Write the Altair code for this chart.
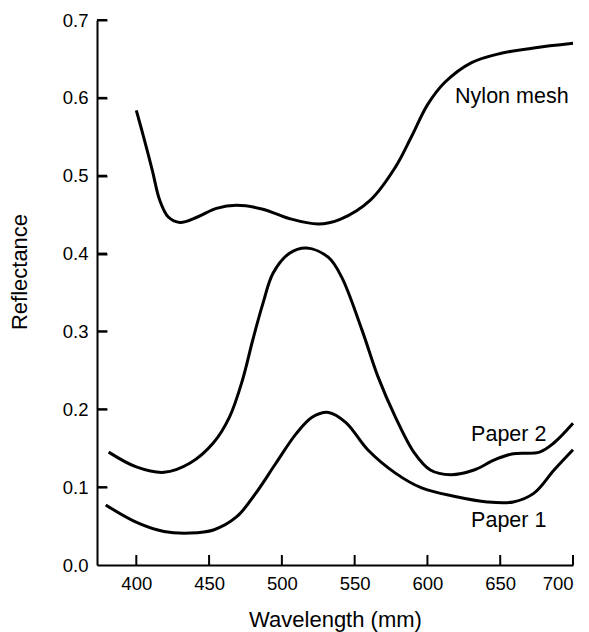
import altair as alt
import pandas as pd

# Nylon mesh curve
nylon_wl = [400, 405, 411, 416, 422, 430, 442, 455, 469, 487, 505, 525, 540, 561, 578, 589, 600, 612, 630, 650, 673, 700]
nylon_r = [0.584, 0.55, 0.507, 0.469, 0.447, 0.440, 0.447, 0.458, 0.462, 0.457, 0.445, 0.438, 0.444, 0.469, 0.511, 0.55, 0.591, 0.62, 0.645, 0.657, 0.664, 0.670]

# Paper 2 curve
paper2_wl = [381, 400, 419, 437, 453, 464, 473, 480, 487, 494, 505, 517, 532, 541, 555, 566, 578, 591, 602, 616, 632, 646, 659, 677, 687, 700]
paper2_r = [0.145, 0.126, 0.119, 0.131, 0.157, 0.19, 0.238, 0.289, 0.336, 0.375, 0.40, 0.407, 0.395, 0.37, 0.302, 0.242, 0.19, 0.144, 0.122, 0.116, 0.122, 0.135, 0.143, 0.145, 0.157, 0.182]

# Paper 1 curve
paper1_wl = [379, 401, 419, 437, 453, 469, 482, 496, 510, 521, 532, 544, 559, 578, 596, 619, 641, 659, 673, 687, 700]
paper1_r = [0.077, 0.054, 0.043, 0.041, 0.045, 0.062, 0.092, 0.131, 0.169, 0.19, 0.196, 0.183, 0.148, 0.118, 0.099, 0.088, 0.081, 0.081, 0.092, 0.122, 0.148]

# Curve labels (anchored in data units)
label_text = ["Nylon mesh", "Paper 2", "Paper 1"]
label_wl = [619, 630, 630]
label_r = [0.601, 0.167, 0.056]

x_ticks = [400, 450, 500, 550, 600, 650, 700]
y_ticks = [0.1, 0.2, 0.3, 0.4, 0.5, 0.6, 0.7]

X_MIN, X_MAX = 373, 700
Y_MIN, Y_MAX = 0.0, 0.7

rows = []
for name, wl, rr in [("Nylon mesh", nylon_wl, nylon_r), ("Paper 2", paper2_wl, paper2_r), ("Paper 1", paper1_wl, paper1_r)]:
    for w, r in zip(wl, rr):
        rows.append({"series": name, "wl": w, "r": r})
df = pd.DataFrame(rows)
labels = pd.DataFrame({"text": label_text, "wl": label_wl, "r": label_r})
xt = pd.DataFrame({"wl": x_ticks})

FONT = "Liberation Sans"
W, H = 476, 545
TICK_PX = 10
x_tick_len = TICK_PX * (X_MAX - X_MIN) / W
yt = pd.DataFrame({"r": y_ticks, "x0": [X_MIN] * len(y_ticks), "x1": [X_MIN + x_tick_len] * len(y_ticks)})

xscale = alt.Scale(domain=[X_MIN, X_MAX], nice=False, zero=False)
yscale = alt.Scale(domain=[Y_MIN, Y_MAX], nice=False)

xaxis = alt.Axis(values=x_ticks, ticks=False, grid=False, domainColor="black", domainWidth=2,
                 labelFont=FONT, labelFontSize=18.5, labelColor="black", labelPadding=9,
                 title="Wavelength (mm)", titleFont=FONT, titleFontSize=22, titleFontWeight="normal",
                 titleColor="black", titleY=54, titleBaseline="middle")
yaxis = alt.Axis(values=[0.0] + y_ticks, format=".1f", ticks=False, grid=False, domainColor="black", domainWidth=2,
                 labelFont=FONT, labelFontSize=18.5, labelColor="black", labelPadding=9,
                 title="Reflectance", titleFont=FONT, titleFontSize=22, titleFontWeight="normal",
                 titleColor="black", titleX=-78, titleY=251.5, titleBaseline="middle", titleAngle=-90)

# a second y axis that only carries ticks, moved onto the left edge so its ticks point inward
tick_axis = alt.Axis(orient="right", offset=-W, values=y_ticks, labels=False, domain=False, grid=False,
                     ticks=True, tickSize=TICK_PX, tickWidth=2, tickColor="black", title=None)

xtick_marks = alt.Chart(xt).mark_rule(color="black", strokeWidth=2).encode(
    x=alt.X("wl:Q", scale=xscale, axis=xaxis),
    y=alt.value(H),
    y2=alt.value(H - TICK_PX),
)

lines = alt.Chart(df).mark_line(interpolate="catmull-rom", strokeWidth=3, color="black").encode(
    x=alt.X("wl:Q", scale=xscale),
    y=alt.Y("r:Q", scale=yscale, axis=yaxis),
    detail="series:N",
)

text = alt.Chart(labels).mark_text(align="left", baseline="middle", font=FONT, fontSize=21.5, color="black").encode(
    x=alt.X("wl:Q", scale=xscale),
    y=alt.Y("r:Q", scale=yscale),
    text="text:N",
)

main = alt.layer(xtick_marks, lines, text)

ytick_rules = alt.Chart(yt).mark_rule(color="black", strokeWidth=2).encode(
    y=alt.Y("r:Q", scale=yscale, axis=tick_axis),
    x=alt.X("x0:Q", scale=xscale),
    x2="x1:Q",
)

chart = alt.layer(main, ytick_rules).resolve_scale(y="independent").properties(
    width=W, height=H,
    autosize=alt.AutoSizeParams(type="none"),
    padding={"left": 89, "top": 12, "right": 8, "bottom": 70},
).configure_view(stroke=None)

chart.save("out.html", embed_options={"renderer": "svg", "actions": False})
